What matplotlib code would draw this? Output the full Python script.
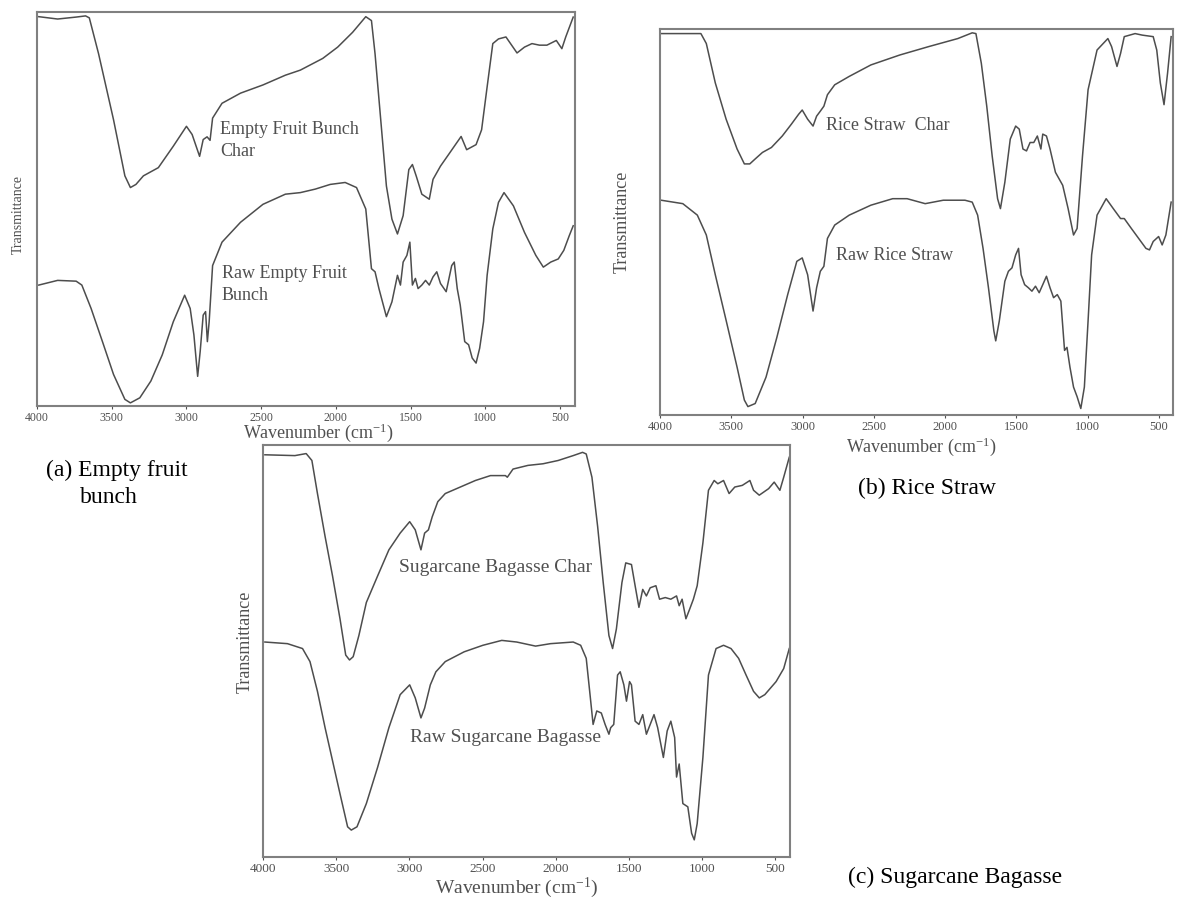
import matplotlib.pyplot as plt
import numpy as np

plt.rcParams['font.family'] = ['Liberation Serif', 'DejaVu Serif']
plt.rcParams['mathtext.default'] = 'regular'

# (a) Empty fruit bunch
efb_char_wn = [3988, 3862, 3738, 3675, 3650, 3588, 3488, 3412, 3375, 3338, 3288, 3188, 3088, 3000,
               2962, 2912, 2888, 2862, 2842, 2825, 2762, 2638, 2488, 2338, 2238, 2088, 1988, 1888,
               1800, 1762, 1738, 1700, 1662, 1625, 1588, 1550, 1512, 1488, 1462, 1425, 1375, 1350,
               1300, 1238, 1162, 1125, 1062, 1025, 988, 950, 912, 862, 788, 738, 688, 638, 588,
               525, 488, 462, 412]
efb_char_t = [99.8, 99.2, 99.7, 100, 99.5, 90.3, 73.4, 59.0, 56.0, 56.8, 59.0, 61.1, 66.6, 71.7,
              69.6, 64.0, 68.3, 69.0, 68.1, 73.8, 77.6, 80.2, 82.3, 84.8, 86.1, 89.1, 92.0, 95.8,
              99.8, 98.8, 90.3, 73.4, 56.4, 47.9, 44.1, 48.8, 60.6, 61.9, 58.9, 54.3, 53.0, 58.1,
              61.5, 64.9, 69.1, 65.7, 67.0, 70.8, 81.8, 92.9, 94.1, 94.6, 90.5, 92.0, 92.9, 92.5,
              92.5, 93.7, 91.6, 94.6, 99.7]
efb_raw_wn = [3988, 3862, 3738, 3700, 3638, 3562, 3488, 3412, 3375, 3312, 3238, 3162, 3088, 3012,
              2975, 2950, 2925, 2908, 2888, 2872, 2860, 2848, 2825, 2762, 2638, 2488, 2338, 2238,
              2138, 2038, 1938, 1862, 1800, 1762, 1738, 1712, 1662, 1625, 1588, 1568, 1550, 1525,
              1505, 1488, 1468, 1450, 1425, 1400, 1375, 1350, 1325, 1300, 1262, 1225, 1208, 1188,
              1168, 1138, 1112, 1088, 1062, 1038, 1012, 988, 950, 912, 875, 812, 738, 662, 612,
              562, 512, 475, 438, 412]
efb_raw_t = [31.0, 32.2, 32.0, 31.0, 25.0, 16.5, 8.1, 1.7, 0.8, 2.1, 6.4, 13.1, 21.6, 28.4,
             25.0, 18.2, 7.6, 14.0, 23.3, 24.2, 16.5, 21.6, 36.0, 42.0, 47.1, 51.7, 54.3, 54.7,
             55.6, 56.8, 57.3, 56.0, 50.5, 35.2, 34.4, 30.1, 22.9, 26.7, 33.5, 31.0, 36.9, 38.6,
             42.0, 31.0, 32.7, 30.1, 31.0, 32.2, 31.0, 33.1, 34.4, 31.4, 29.3, 36.0, 36.9, 30.1,
             25.9, 16.5, 15.7, 12.3, 11.0, 14.8, 21.6, 33.5, 45.4, 52.2, 54.7, 51.3, 44.5, 38.6,
             35.6, 36.9, 37.7, 39.9, 43.7, 46.2]

# (b) Rice straw
rs_char_wn = [3992, 3713, 3675, 3612, 3536, 3459, 3408, 3370, 3332, 3281, 3218, 3142, 3078, 3027,
              3002, 2964, 2926, 2901, 2875, 2850, 2825, 2774, 2672, 2520, 2317, 2114, 1910, 1809,
              1783, 1745, 1707, 1669, 1631, 1611, 1580, 1542, 1504, 1479, 1453, 1428, 1403, 1377,
              1352, 1327, 1314, 1288, 1263, 1225, 1174, 1136, 1098, 1073, 1035, 996, 933, 857,
              831, 793, 768, 742, 666, 616, 539, 514, 489, 463, 438, 413]
rs_char_t = [99.8, 99.8, 97.2, 86.9, 77.4, 69.6, 65.7, 65.7, 67.0, 68.7, 70.0, 73.0, 76.1, 78.7,
             79.8, 77.4, 75.6, 78.2, 79.5, 80.8, 83.8, 86.4, 88.6, 91.6, 94.2, 96.4, 98.5, 100,
             99.8, 92.0, 80.8, 67.8, 56.6, 54.0, 60.9, 72.2, 75.6, 74.8, 69.6, 69.1, 71.3, 71.3,
             73.0, 69.6, 73.5, 73.0, 69.6, 63.5, 60.1, 54.0, 47.1, 48.8, 67.8, 85.1, 95.5, 98.5,
             96.4, 91.2, 94.6, 99.0, 99.8, 99.4, 99.0, 95.5, 86.9, 81.2, 89.5, 99.0]
rs_raw_wn = [3992, 3840, 3738, 3675, 3612, 3535, 3459, 3408, 3383, 3332, 3256, 3180, 3104, 3040,
             3002, 2964, 2926, 2901, 2875, 2850, 2825, 2774, 2672, 2520, 2367, 2266, 2139, 2012,
             1860, 1809, 1771, 1733, 1695, 1657, 1644, 1619, 1580, 1555, 1530, 1504, 1484, 1466,
             1441, 1415, 1390, 1365, 1339, 1314, 1288, 1263, 1238, 1212, 1187, 1161, 1144, 1123,
             1098, 1073, 1047, 1022, 996, 971, 933, 869, 819, 768, 742, 692, 641, 590, 565, 539,
             501, 476, 450, 413]
rs_raw_t = [56.2, 55.3, 52.3, 47.1, 36.7, 24.6, 12.5, 3.9, 2.2, 3.0, 9.9, 20.3, 31.5, 40.2,
            41.1, 36.7, 27.2, 33.3, 37.6, 38.9, 46.2, 49.7, 52.3, 54.9, 56.6, 56.6, 55.3, 56.2,
            56.2, 55.7, 52.3, 43.6, 33.3, 22.0, 19.4, 24.6, 35.0, 37.6, 38.5, 41.9, 43.6, 36.7,
            34.1, 33.3, 32.4, 33.7, 32.0, 34.1, 36.3, 33.3, 30.7, 31.5, 29.8, 16.9, 17.7, 12.5,
            7.3, 4.8, 1.7, 7.3, 24.6, 41.9, 52.3, 56.6, 54.0, 51.4, 51.4, 48.8, 46.2, 43.6, 43.2,
            45.4, 46.7, 44.5, 47.1, 55.7]

# (c) Sugarcane bagasse
sb_char_wn = [3987, 3782, 3705, 3666, 3628, 3576, 3525, 3474, 3435, 3409, 3384, 3345, 3294, 3217,
              3140, 3063, 2998, 2960, 2921, 2896, 2870, 2844, 2806, 2755, 2652, 2549, 2446, 2344,
              2331, 2292, 2190, 2087, 1984, 1881, 1817, 1792, 1753, 1714, 1676, 1637, 1612, 1586,
              1548, 1522, 1483, 1458, 1432, 1406, 1381, 1355, 1316, 1291, 1252, 1214, 1175, 1157,
              1137, 1111, 1085, 1060, 1034, 995, 957, 918, 893, 854, 816, 777, 726, 674, 649,
              610, 546, 508, 469, 443, 405]
sb_char_t = [98.6, 98.4, 98.9, 97.2, 89.1, 78.6, 68.9, 58.4, 49.5, 48.3, 49.1, 54.3, 62.4, 68.9,
             75.3, 79.4, 82.2, 80.2, 75.3, 79.4, 80.2, 83.4, 87.1, 89.1, 90.7, 92.3, 93.5, 93.5,
             93.1, 95.1, 96.0, 96.4, 97.2, 98.4, 99.2, 98.8, 93.1, 81.0, 67.3, 54.3, 51.1, 55.9,
             67.3, 72.1, 71.7, 66.5, 61.2, 65.6, 64.0, 66.0, 66.5, 63.2, 63.6, 63.2, 64.0, 61.6,
             63.2, 58.4, 60.8, 63.2, 66.5, 77.0, 89.9, 92.3, 91.5, 92.3, 89.1, 90.7, 91.1, 92.3,
             89.9, 88.7, 90.3, 91.9, 89.9, 93.1, 98.0]
sb_raw_wn = [3987, 3833, 3730, 3679, 3628, 3576, 3525, 3474, 3422, 3397, 3358, 3294, 3217, 3140,
             3063, 2998, 2960, 2921, 2896, 2857, 2819, 2755, 2626, 2498, 2369, 2267, 2138, 2036,
             1881, 1830, 1792, 1766, 1745, 1720, 1689, 1663, 1637, 1625, 1604, 1578, 1560, 1535,
             1517, 1496, 1483, 1458, 1432, 1406, 1381, 1355, 1329, 1304, 1265, 1239, 1214, 1188,
             1175, 1157, 1132, 1098, 1072, 1054, 1034, 995, 957, 905, 854, 803, 751, 700, 649,
             610, 572, 495, 443, 405]
sb_raw_t = [52.7, 52.3, 51.1, 47.9, 40.6, 31.7, 23.6, 15.5, 7.4, 6.6, 7.4, 13.1, 22.0, 31.7,
            39.8, 42.2, 39.0, 34.1, 36.5, 42.2, 45.4, 47.9, 50.3, 51.9, 53.1, 52.7, 51.7, 52.3,
            52.7, 51.9, 48.7, 39.8, 32.5, 35.8, 35.3, 32.5, 30.1, 31.7, 32.5, 44.6, 45.4, 42.2,
            38.2, 43.0, 42.2, 33.3, 32.5, 34.9, 30.1, 32.5, 34.9, 31.7, 24.4, 30.9, 33.3, 29.3,
            19.6, 22.8, 13.1, 12.3, 5.8, 4.2, 8.2, 24.4, 44.6, 51.1, 51.9, 51.1, 48.7, 44.6, 40.6,
            39.0, 39.8, 43.0, 46.2, 51.1]

xticks = [4000, 3500, 3000, 2500, 2000, 1500, 1000, 500]

W, H = 1178, 899


def fx(px):
    return px / W


def fy(py):
    return 1 - py / H


fig = plt.figure(figsize=(11.78, 8.99), dpi=100)

line_col = '#4d4d4d'
frame_col = '#808080'
text_col = '#505050'


def make_panel(box, curves, tick_size):
    left, top, right, bottom = box
    ax = fig.add_axes([fx(left), fy(bottom), fx(right - left), (bottom - top) / H])
    for wn, t in curves:
        ax.plot(wn, t, color=line_col, lw=1.1)
    ax.set_xlim(4000, 400)
    ax.set_ylim(0, 101)
    ax.set_yticks([])
    ax.set_xticks(xticks)
    ax.set_xticklabels([str(v) for v in xticks])
    ax.tick_params(axis='x', direction='out', length=2, width=0.8, pad=2,
                   labelsize=tick_size, colors=text_col)
    for s in ax.spines.values():
        s.set_color(frame_col)
        s.set_linewidth(1.5)
    return ax


make_panel((37, 12, 575, 406), [(efb_char_wn, efb_char_t), (efb_raw_wn, efb_raw_t)], 8.5)
make_panel((660, 29, 1173, 415), [(rs_char_wn, rs_char_t), (rs_raw_wn, rs_raw_t)], 9)
make_panel((263, 445, 790, 857), [(sb_char_wn, sb_char_t), (sb_raw_wn, sb_raw_t)], 9.5)

xlab = 'Wavenumber (cm$^{-1}$)'

# axis titles
fig.text(fx(18), fy(215), 'Transmittance', rotation=90, ha='center', va='center',
         fontsize=10, color=text_col)
fig.text(fx(318), fy(433), xlab, ha='center', va='center', fontsize=13, color=text_col)
fig.text(fx(622), fy(222), 'Transmittance', rotation=90, ha='center', va='center',
         fontsize=13, color=text_col)
fig.text(fx(921), fy(447), xlab, ha='center', va='center', fontsize=13, color=text_col)
fig.text(fx(245), fy(642), 'Transmittance', rotation=90, ha='center', va='center',
         fontsize=13, color=text_col)
fig.text(fx(517), fy(888), xlab, ha='center', va='center', fontsize=14, color=text_col)

# curve labels
labels = [
    ('Empty Fruit Bunch', 220, 129, 13), ('Char', 220, 152, 13),
    ('Raw Empty Fruit', 222, 274, 13), ('Bunch', 222, 295, 13),
    ('Rice Straw  Char', 826, 125, 13), ('Raw Rice Straw', 836, 255, 13),
    ('Sugarcane Bagasse Char', 399, 567, 14), ('Raw Sugarcane Bagasse', 410, 738, 14),
]
for txt, x, y, fs in labels:
    fig.text(fx(x), fy(y), txt, ha='left', va='center', fontsize=fs, color=text_col)

# panel captions
fig.text(fx(46), fy(470), '(a) Empty fruit', ha='left', va='center', fontsize=17)
fig.text(fx(80), fy(497), 'bunch', ha='left', va='center', fontsize=17)
fig.text(fx(858), fy(488), '(b) Rice Straw', ha='left', va='center', fontsize=17)
fig.text(fx(848), fy(877), '(c) Sugarcane Bagasse', ha='left', va='center', fontsize=17)

fig.savefig('out.png', dpi=100)
